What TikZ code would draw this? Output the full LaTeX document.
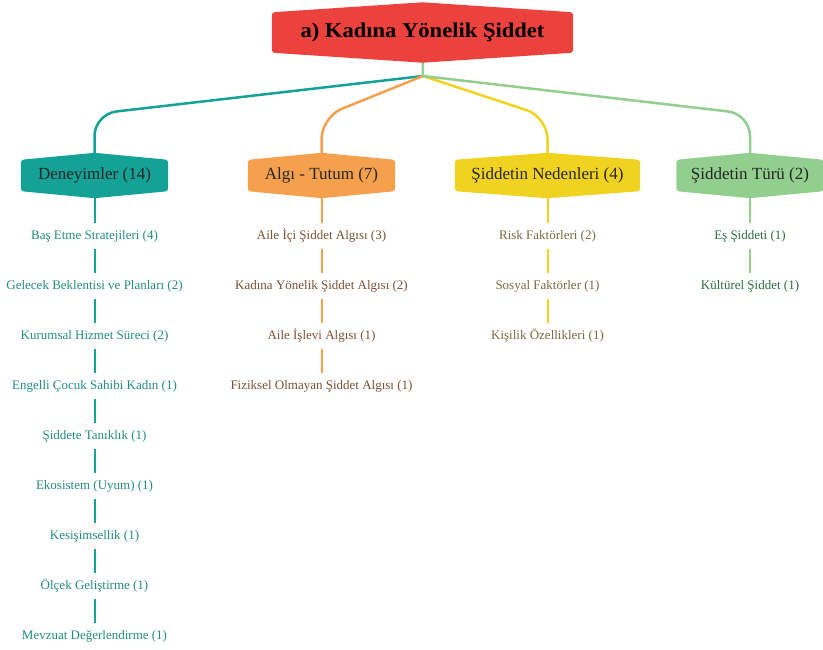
\documentclass[tikz,border=0pt]{standalone}
\usepackage{fontspec}
\setmainfont{Liberation Serif}
\usetikzlibrary{backgrounds}
\definecolor{rootred}{RGB}{236,66,61}
\definecolor{deneyteal}{RGB}{20,161,150}
\definecolor{algorange}{RGB}{245,160,76}
\definecolor{nedenyellow}{RGB}{240,211,32}
\definecolor{turgreen}{RGB}{146,206,142}
\definecolor{deneytext}{RGB}{34,139,128}
\definecolor{algtext}{RGB}{122,80,52}
\definecolor{nedentext}{RGB}{122,104,62}
\definecolor{turtext}{RGB}{46,108,66}
\tikzset{
  topbox/.style={minimum width=147pt, minimum height=31pt, inner sep=0pt, font=\fontsize{17}{20}\selectfont, text=black!85},
  leaf/.style={minimum height=26pt, inner sep=0pt, font=\fontsize{13}{15}\selectfont},
  branch/.style={line width=2.5pt, rounded corners=22pt},
  stem/.style={line width=2pt}
}
% hexagon behind a node: node, colour, height of the peak
\newcommand{\hexfill}[3]{%
  \fill[#2, rounded corners=3pt] (#1.south west) -- ([yshift=-#3]#1.south) -- (#1.south east)
    -- (#1.north east) -- ([yshift=#3]#1.north) -- (#1.north west) -- cycle;}
\begin{document}
\begin{tikzpicture}[x=1pt,y=-1pt]
	\useasboundingbox (0,0) rectangle (823,649);
	\node[minimum width=301pt, minimum height=40pt, inner sep=0pt, font=\bfseries\fontsize{21}{25}\selectfont] (root) at (422.5,32.5) {\scalebox{1.075}[1]{a) Kadına Yönelik Şiddet}};
	\coordinate (hub) at (423,76);
	\node[topbox] (deney) at (94.5,175.5) {Deneyimler (14)};
	\node[topbox] (algi) at (321.5,175.5) {Algı - Tutum (7)};
	\node[topbox, minimum width=185pt] (neden) at (547.5,175.5) {Şiddetin Nedenleri (4)};
	\node[topbox] (tur) at (750,175.5) {Şiddetin Türü (2)};
	% Deneyimler
	\node[leaf, text=deneytext] (deney1) at (94.5,236) {Baş Etme Stratejileri (4)};
	\node[leaf, text=deneytext] (deney2) at (94.5,286) {Gelecek Beklentisi ve Planları (2)};
	\node[leaf, text=deneytext] (deney3) at (94.5,336) {Kurumsal Hizmet Süreci (2)};
	\node[leaf, text=deneytext] (deney4) at (94.5,386) {Engelli Çocuk Sahibi Kadın (1)};
	\node[leaf, text=deneytext] (deney5) at (94.5,436) {Şiddete Tanıklık (1)};
	\node[leaf, text=deneytext] (deney6) at (94.5,486) {Ekosistem (Uyum) (1)};
	\node[leaf, text=deneytext] (deney7) at (94.5,536) {Kesişimsellik (1)};
	\node[leaf, text=deneytext] (deney8) at (94.5,586) {Ölçek Geliştirme (1)};
	\node[leaf, text=deneytext] (deney9) at (94.5,636) {Mevzuat Değerlendirme (1)};
	% Algi - Tutum
	\node[leaf, text=algtext] (algi1) at (321.5,236) {Aile İçi Şiddet Algısı (3)};
	\node[leaf, text=algtext] (algi2) at (321.5,286) {Kadına Yönelik Şiddet Algısı (2)};
	\node[leaf, text=algtext] (algi3) at (321.5,336) {Aile İşlevi Algısı (1)};
	\node[leaf, text=algtext] (algi4) at (321.5,386) {Fiziksel Olmayan Şiddet Algısı (1)};
	% Nedenler
	\node[leaf, text=nedentext] (neden1) at (547.5,236) {Risk Faktörleri (2)};
	\node[leaf, text=nedentext] (neden2) at (547.5,286) {Sosyal Faktörler (1)};
	\node[leaf, text=nedentext] (neden3) at (547.5,336) {Kişilik Özellikleri (1)};
	% Tur
	\node[leaf, text=turtext] (tur1) at (750,236) {Eş Şiddeti (1)};
	\node[leaf, text=turtext] (tur2) at (750,286) {Kültürel Şiddet (1)};
	\begin{scope}[on background layer]
		\draw[branch, deneyteal] (hub) -- (deney.north |- 0,114) -- (deney.north);
		\draw[branch, algorange] (hub) -- (algi.north |- 0,117) -- (algi.north);
		\draw[branch, nedenyellow] (hub) -- (neden.north |- 0,117) -- (neden.north);
		\draw[branch, turgreen] (hub) -- (tur.north |- 0,114) -- (tur.north);
		\draw[line width=2.5pt, turgreen] (root.south) -- (hub);
		\draw[stem, deneyteal] (deney) -- (deney1) -- (deney2) -- (deney3) -- (deney4) -- (deney5) -- (deney6) -- (deney7) -- (deney8) -- (deney9);
		\draw[stem, algorange] (algi) -- (algi1) -- (algi2) -- (algi3) -- (algi4);
		\draw[stem, nedenyellow] (neden) -- (neden1) -- (neden2) -- (neden3);
		\draw[stem, turgreen] (tur) -- (tur1) -- (tur2);
		\hexfill{root}{rootred}{10pt}
		\hexfill{deney}{deneyteal}{7pt}
		\hexfill{algi}{algorange}{7pt}
		\hexfill{neden}{nedenyellow}{7pt}
		\hexfill{tur}{turgreen}{7pt}
	\end{scope}
\end{tikzpicture}
\end{document}
